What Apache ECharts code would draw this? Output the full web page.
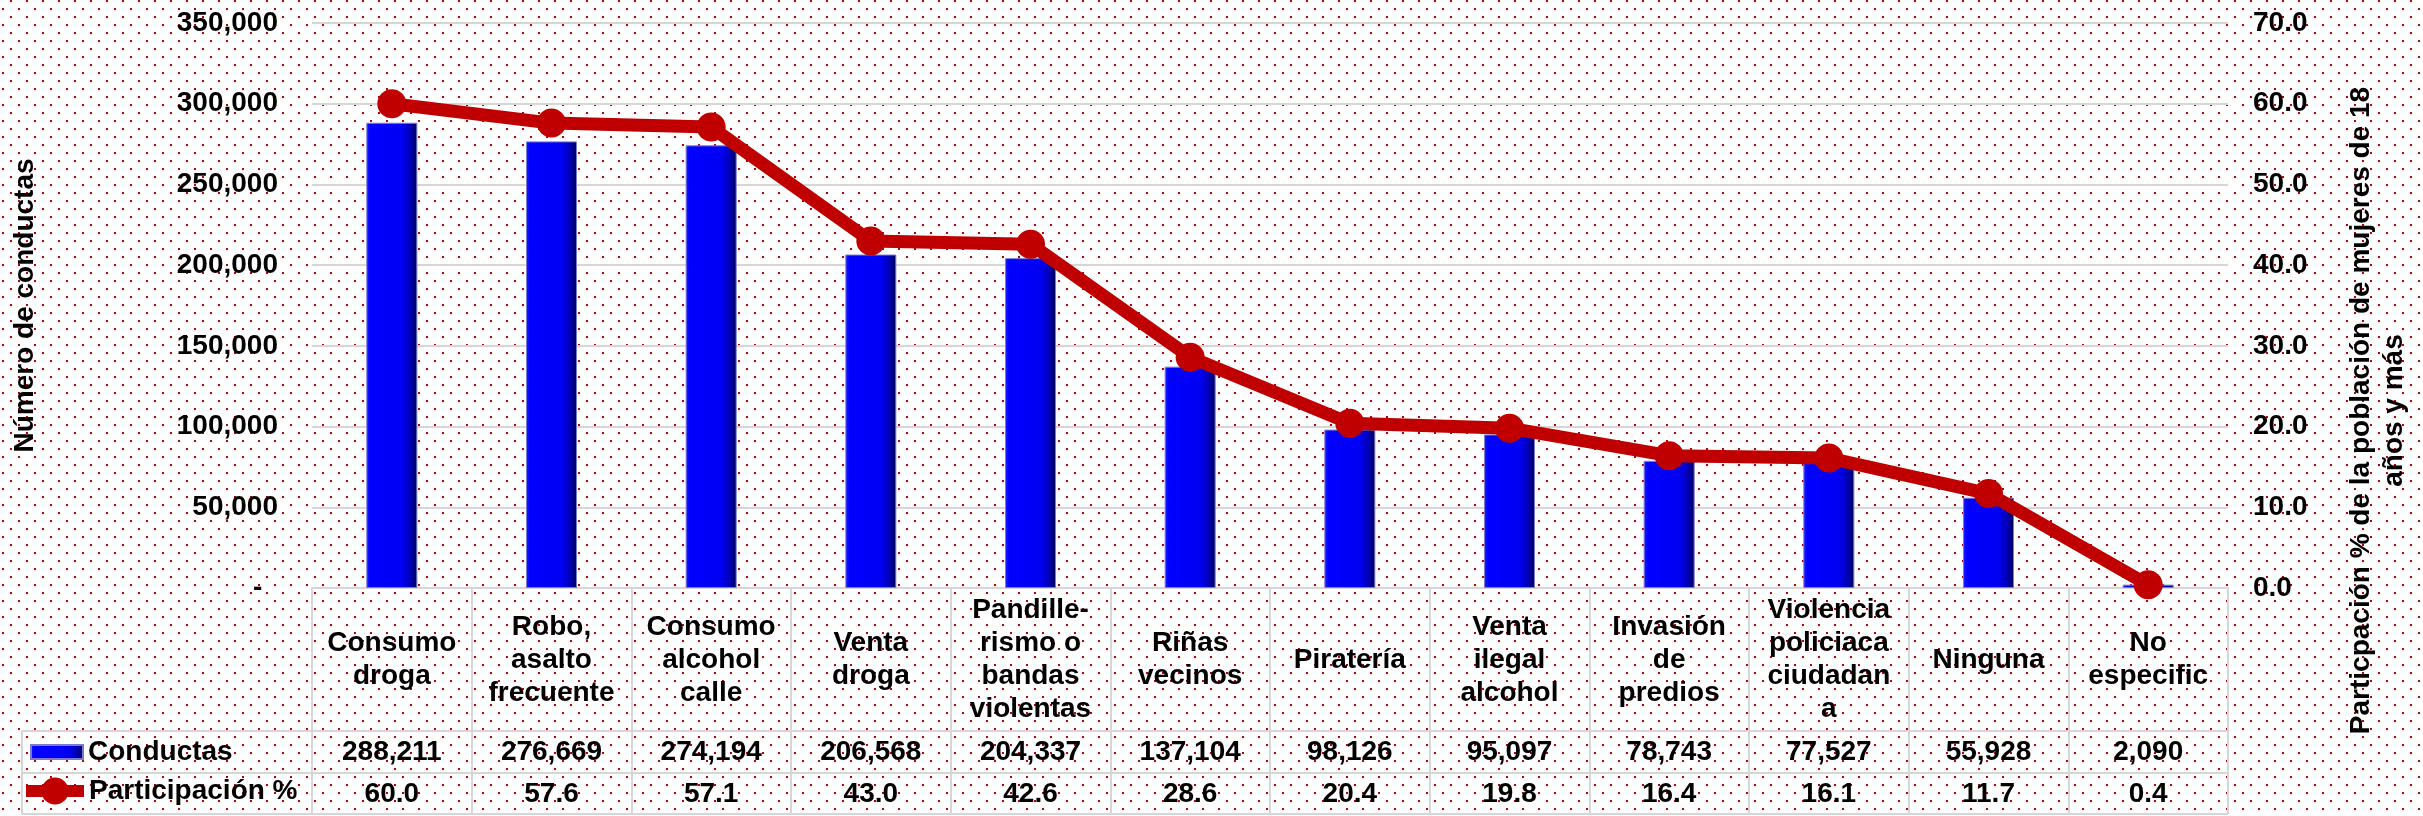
<!DOCTYPE html>
<html>
<head>
<meta charset="utf-8">
<title>Conductas</title>
<script src="https://cdn.jsdelivr.net/npm/echarts@6/dist/echarts.min.js"></script>
<style>
  html, body { margin: 0; padding: 0; background: #fff; }
  #chart { width: 2423px; height: 816px; }
</style>
</head>
<body>
<div id="chart"></div>
<script>
// data
const categories = [
  "Consumo\ndroga", "Robo,\nasalto\nfrecuente", "Consumo\nalcohol\ncalle", "Venta\ndroga",
  "Pandille-\nrismo o\nbandas\nviolentas", "Riñas\nvecinos", "Piratería", "Venta\nilegal\nalcohol",
  "Invasión\nde\npredios", "Violencia\npoliciaca\nciudadan\na", "Ninguna", "No\nespecific"
];
const conductas = [288211, 276669, 274194, 206568, 204337, 137104, 98126, 95097, 78743, 77527, 55928, 2090];
const participacion = [60.0, 57.6, 57.1, 43.0, 42.6, 28.6, 20.4, 19.8, 16.4, 16.1, 11.7, 0.4];

const FONT = '"Liberation Sans", Arial, sans-serif';
const GRID_LINE = "#D6D6D6";
const txt = { color: "#000", fontFamily: FONT, fontWeight: "bold", fontSize: 28 };

// dotted red background tile
const tile = document.createElement("canvas");
tile.width = 16;
tile.height = 16;
const tctx = tile.getContext("2d");
tctx.fillStyle = "#C00000";
tctx.fillRect(2, 8, 2, 2);
tctx.fillRect(10, 0, 2, 2);

const chart = echarts.init(document.getElementById("chart"));

const tableLine = (x1, y1, x2, y2) => ({
  type: "line",
  silent: true,
  shape: { x1, y1, x2, y2 },
  style: { stroke: GRID_LINE, lineWidth: 2 },
});

const option = {
  animation: false,
  graphic: [
    {
      type: "rect",
      z: -100,
      silent: true,
      shape: { x: 0, y: 0, width: 2423, height: 816 },
      style: { fill: { image: tile, repeat: "repeat" } },
    },
    tableLine(22, 731, 2228, 731),
    tableLine(22, 773, 2228, 773),
    tableLine(22, 814, 2228, 814),
    tableLine(22, 731, 22, 814),
  ],
  grid: { left: 312, right: 195, top: 23, bottom: 228, outerBoundsMode: "none" },
  legend: [
    {
      data: ["Conductas"],
      icon: "rect",
      left: 30,
      top: 738,
      padding: 0,
      itemWidth: 52,
      itemHeight: 14,
      textStyle: txt,
      selectedMode: false,
    },
    {
      data: ["Participación %"],
      left: 20,
      top: 777,
      padding: 0,
      itemWidth: 58,
      itemHeight: 34,
      textStyle: txt,
      lineStyle: { width: 12 },
      selectedMode: false,
    },
  ],
  xAxis: [
    {
      type: "category",
      data: categories,
      position: "bottom",
      axisLine: { lineStyle: { color: GRID_LINE, width: 2 } },
      axisTick: { show: true, length: 226, lineStyle: { color: GRID_LINE, width: 2 } },
      axisLabel: { ...txt, interval: 0, margin: 72, verticalAlign: "middle", lineHeight: 33 },
    },
    {
      type: "category",
      data: conductas.map((v) => v.toLocaleString("en-US")),
      position: "bottom",
      offset: 143,
      axisLine: { show: false },
      axisTick: { show: false },
      axisLabel: { ...txt, interval: 0, margin: 21, verticalAlign: "middle" },
    },
    {
      type: "category",
      data: participacion.map((v) => v.toFixed(1)),
      position: "bottom",
      offset: 185,
      axisLine: { show: false },
      axisTick: { show: false },
      axisLabel: { ...txt, interval: 0, margin: 21, verticalAlign: "middle" },
    },
  ],
  yAxis: [
    {
      type: "value",
      min: 0,
      max: 350000,
      interval: 50000,
      name: "Número de conductas",
      nameLocation: "middle",
      nameGap: 270,
      nameTextStyle: { ...txt, lineHeight: 33 },
      axisLine: { show: false },
      axisTick: { show: false },
      splitLine: { lineStyle: { color: GRID_LINE, width: 2 } },
      axisLabel: {
        ...txt,
        margin: 34,
        formatter: (v) => (v === 0 ? "-  " : v.toLocaleString("en-US")),
      },
    },
    {
      type: "value",
      min: 0,
      max: 70,
      interval: 10,
      position: "right",
      name: "Particpación % de la población de mujeres de 18\naños y más",
      nameLocation: "middle",
      nameRotate: 90,
      nameGap: 117,
      nameTextStyle: { ...txt, lineHeight: 33, align: "center", padding: [0, 210, 0, 0] },
      axisLine: { show: false },
      axisTick: { show: false },
      splitLine: { show: false },
      axisLabel: { ...txt, margin: 25, formatter: (v) => v.toFixed(1) },
    },
  ],
  series: [
    {
      name: "Conductas",
      type: "bar",
      data: conductas,
      barWidth: 51,
      itemStyle: {
        color: new echarts.graphic.LinearGradient(0, 0, 1, 0, [
          { offset: 0, color: "#2020ff" },
          { offset: 0.08, color: "#0000ff" },
          { offset: 0.7, color: "#0000f4" },
          { offset: 0.88, color: "#0000b0" },
          { offset: 1, color: "#000050" },
        ]),
        borderColor: "#7a7ad0",
        borderWidth: 1,
      },
    },
    {
      name: "Participación %",
      type: "line",
      yAxisIndex: 1,
      data: participacion,
      symbol: "circle",
      symbolSize: 29,
      z: 5,
      itemStyle: { color: "#C00000" },
      lineStyle: { color: "#C00000", width: 13 },
    },
  ],
};

chart.setOption(option);
</script>
</body>
</html>
